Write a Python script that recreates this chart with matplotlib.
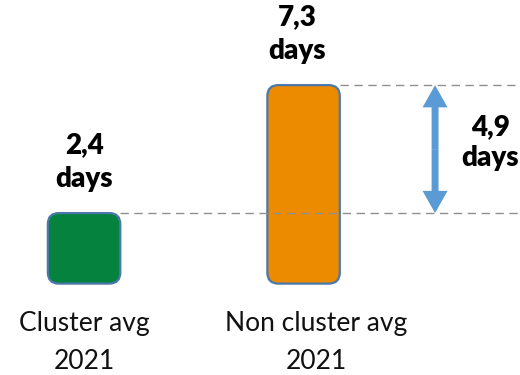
import matplotlib
matplotlib.use("Agg")
import matplotlib.pyplot as plt
from matplotlib.patches import FancyBboxPatch, FancyArrowPatch

plt.rcParams['font.family'] = ['Lato', 'DejaVu Sans']

categories = ["Cluster avg\n2021", "Non cluster avg\n2021"]
values = [2.4, 7.3]
value_labels = ["2,4\ndays", "7,3\ndays"]
colors = ["#06823F", "#EC8B00"]
diff_label = "4,9\ndays"

x_pos = [0, 1]
bar_w = 0.33
base = -0.3

fig = plt.figure(figsize=(5.2, 3.75), dpi=100)
ax = fig.add_axes([0, 0, 1, 1])
ax.set_xlim(-0.383, 1.986)
ax.set_ylim(-3.80, 10.56)
ax.axis("off")

# rounded bars
for x, v, c in zip(x_pos, values, colors):
    box = FancyBboxPatch((x - bar_w / 2, base), bar_w, v - base,
                         boxstyle="round,pad=0,rounding_size=0.05",
                         mutation_aspect=8.4,
                         facecolor=c, edgecolor="#4A78A8", linewidth=1.6)
    ax.add_patch(box)

# value labels above bars
for x, v, t in zip(x_pos, values, value_labels):
    ax.text(x - 0.03 * x, v + 1.95, t, ha="center", va="center",
            fontsize=20, fontweight="heavy", linespacing=1.35)

# category labels under bars
label_x = [0, 1.057]
for x, t in zip(label_x, categories):
    ax.text(x, -2.55, t, ha="center", va="center", fontsize=19,
            linespacing=1.65, color="#111111")

# dashed reference lines
xmax = ax.get_xlim()[1]
ax.hlines(values[0], x_pos[0] + bar_w / 2, xmax, colors="#8F8F8F",
          linestyles=(0, (6, 4)), linewidth=1)
ax.hlines(values[1], x_pos[1] + bar_w / 2, xmax, colors="#8F8F8F",
          linestyles=(0, (6, 4)), linewidth=1)

# double arrow showing the difference
arrow_x = 1.599
mid = (values[0] + values[1]) / 2
for end in values:
    arr = FancyArrowPatch((arrow_x, mid), (arrow_x, end),
                          arrowstyle="simple,head_length=16,head_width=18,tail_width=5",
                          mutation_scale=1, shrinkA=0, shrinkB=0,
                          color="#5B9BD5", linewidth=0)
    ax.add_patch(arr)

ax.text(1.85, mid + 0.25, diff_label, ha="center", va="center",
        fontsize=20, fontweight="heavy", linespacing=1.2)

fig.savefig("out.png", dpi=100)
